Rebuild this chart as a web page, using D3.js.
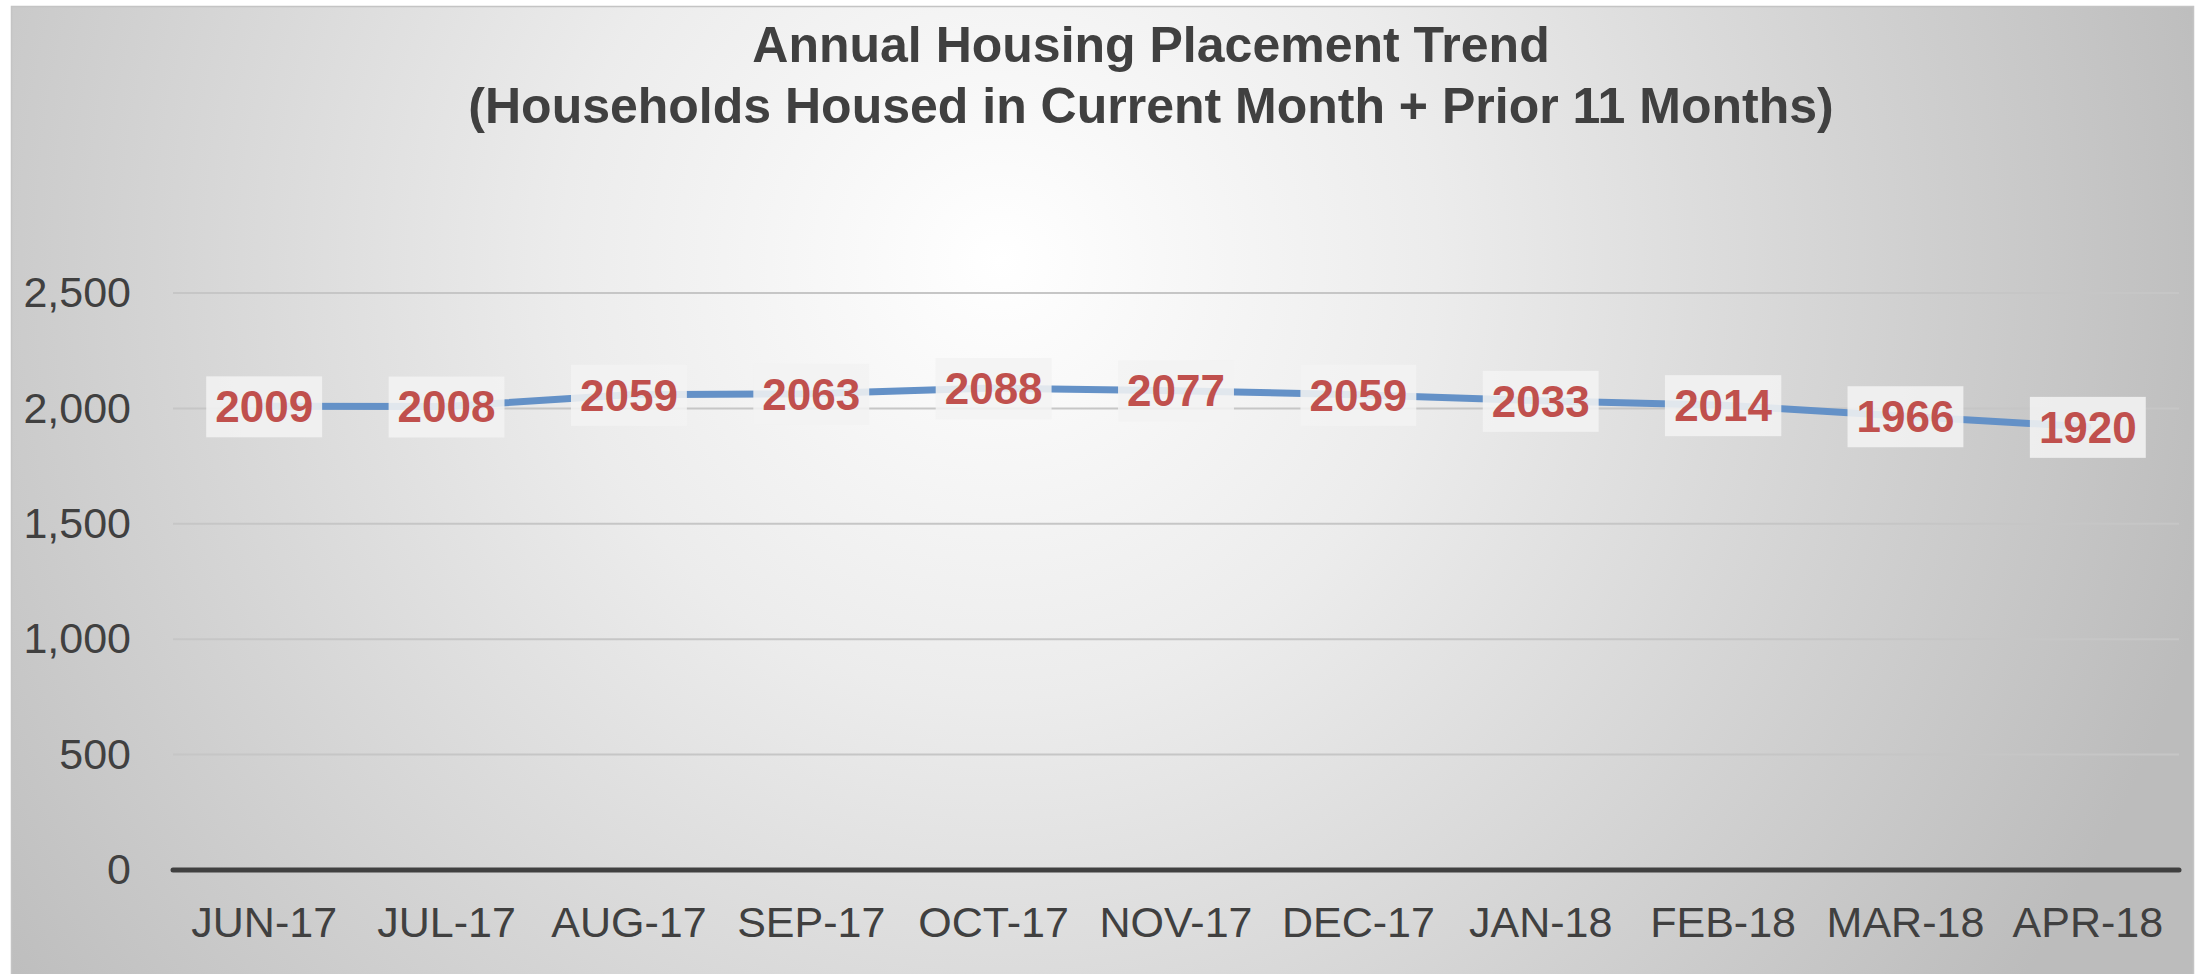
<!DOCTYPE html>
<html>
<head>
<meta charset="utf-8">
<script src="https://cdn.jsdelivr.net/npm/d3@7"></script>
<style>
  html, body { margin: 0; padding: 0; background: #ffffff; }
  svg { display: block; }
</style>
</head>
<body>
<svg id="chart"></svg>
<script>
const months = ["JUN-17", "JUL-17", "AUG-17", "SEP-17", "OCT-17", "NOV-17",
    "DEC-17", "JAN-18", "FEB-18", "MAR-18", "APR-18"];
const households = [2009, 2008, 2059, 2063, 2088, 2077, 2059, 2033, 2014, 1966, 1920];
const yTicks = [0, 500, 1000, 1500, 2000, 2500];
const titleLines = ["Annual Housing Placement Trend",
    "(Households Housed in Current Month + Prior 11 Months)"];

const width = 2196;
const height = 974;
const plot = { left: 173, right: 2179, top: 293, bottom: 870 };
const textColor = "#404040";
const font = "'Liberation Sans', Arial, sans-serif";

const svg = d3.select("#chart")
    .attr("width", width)
    .attr("height", height);

// 배경 그라데이션
const defs = svg.append("defs");
const grad = defs.append("radialGradient")
    .attr("id", "bg")
    .attr("gradientUnits", "userSpaceOnUse")
    .attr("cx", 1000).attr("cy", 260).attr("r", 1250);
grad.append("stop").attr("offset", "0%").attr("stop-color", "#ffffff");
grad.append("stop").attr("offset", "35%").attr("stop-color", "#ececec");
grad.append("stop").attr("offset", "100%").attr("stop-color", "#bcbcbc");

svg.append("rect")
    .attr("x", 11.5).attr("y", 6.5)
    .attr("width", 2182).attr("height", 970)
    .attr("fill", "url(#bg)")
    .attr("stroke", "#c4c4c4")
    .attr("stroke-width", 1.5);

// 스케일
const xScale = d3.scaleBand()
    .domain(months)
    .range([plot.left, plot.right])
    .padding(0);

const yScale = d3.scaleLinear()
    .domain([0, 2500])
    .range([plot.bottom, plot.top]);

const xc = d => xScale(d) + xScale.bandwidth() / 2;

// 그리드 라인
svg.append("g")
    .selectAll("line")
    .data(yTicks.filter(d => d > 0))
    .enter()
    .append("line")
    .attr("x1", plot.left)
    .attr("x2", plot.right)
    .attr("y1", d => yScale(d))
    .attr("y2", d => yScale(d))
    .attr("stroke", "#c6c6c6")
    .attr("stroke-width", 2);

// Y축 라벨
const yAxis = svg.append("g")
    .attr("transform", `translate(${plot.left},0)`)
    .call(d3.axisLeft(yScale).tickValues(yTicks).tickFormat(d3.format(",")).tickSize(0).tickPadding(42));
yAxis.select(".domain").remove();
yAxis.selectAll("text")
    .attr("fill", textColor)
    .style("font-family", font)
    .style("font-size", "43px");

// X축
const xAxis = svg.append("g")
    .attr("transform", `translate(0,${plot.bottom})`)
    .call(d3.axisBottom(xScale).tickSize(0).tickPadding(36));
xAxis.select(".domain").remove();
xAxis.selectAll("text")
    .attr("fill", textColor)
    .style("font-family", font)
    .style("font-size", "43px");

svg.append("line")
    .attr("x1", plot.left)
    .attr("x2", plot.right)
    .attr("y1", yScale(0))
    .attr("y2", yScale(0))
    .attr("stroke", "#404040")
    .attr("stroke-width", 5)
    .attr("stroke-linecap", "round");

// 라인
const line = d3.line()
    .x((d, i) => xc(months[i]))
    .y(d => yScale(d));

svg.append("path")
    .datum(households)
    .attr("d", line)
    .attr("fill", "none")
    .attr("stroke", "#6491c7")
    .attr("stroke-width", 7)
    .attr("stroke-linejoin", "round")
    .attr("stroke-linecap", "round");

// 데이터 라벨
const labels = svg.append("g")
    .selectAll("g")
    .data(households)
    .enter()
    .append("g")
    .attr("transform", (d, i) => `translate(${xc(months[i])},${yScale(d)})`);

labels.append("rect")
    .attr("fill", "#f2f2f2")
    .attr("fill-opacity", 0.88);

labels.append("text")
    .attr("text-anchor", "middle")
    .attr("dy", "0.36em")
    .attr("fill", "#c0504d")
    .style("font-family", font)
    .style("font-weight", "bold")
    .style("font-size", "44px")
    .text(d => d);

labels.each(function () {
    const g = d3.select(this);
    const bb = g.select("text").node().getBBox();
    g.select("rect")
        .attr("x", -bb.width / 2 - 9)
        .attr("y", -30)
        .attr("width", bb.width + 18)
        .attr("height", 61);
});

// 제목
svg.append("g")
    .selectAll("text")
    .data(titleLines)
    .enter()
    .append("text")
    .attr("x", 1151)
    .attr("y", (d, i) => 62 + i * 61)
    .attr("text-anchor", "middle")
    .attr("fill", textColor)
    .style("font-family", font)
    .style("font-weight", "bold")
    .style("font-size", "50px")
    .text(d => d);
</script>
</body>
</html>
